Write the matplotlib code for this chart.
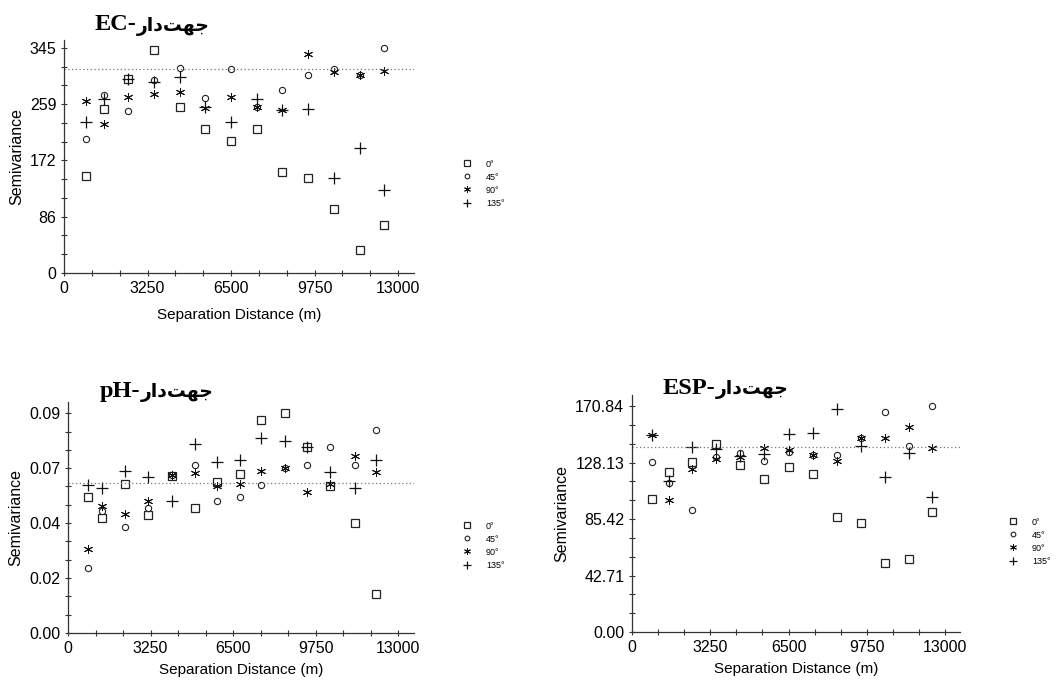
import matplotlib
matplotlib.use('Agg')
import matplotlib.pyplot as plt
import numpy as np
from matplotlib.ticker import FixedLocator

W, H = 1058, 682

lags = [850, 1550, 2500, 3500, 4500, 5500, 6500, 7500, 8500, 9500, 10500, 11500, 12450]
directions = ['0°', '45°', '90°', '135°']

# EC
ec_0 = [149, 252, 298, 342, 255, 221, 203, 221, 155, 146, 98, 35, 73]
ec_45 = [206, 273, 248, 296, 314, 268, 312, 254, 280, 303, 312, 304, 344]
ec_90 = [264, 228, 270, 275, 277, 253, 270, 254, 250, 335, 308, 304, 309]
ec_135 = [232, 266, 298, 292, 301, 255, 231, 266, 250, 251, 146, 192, 127]
ec_sill = 312.4
ec_yticks = ['0', '86', '172', '259', '345']

# pH
ph_lags = [790, 1330, 2240, 3140, 4080, 4990, 5870, 6760, 7600, 8540, 9400, 10320, 11300, 12110]
ph_0 = [0.0555, 0.0469, 0.0611, 0.0484, 0.0644, 0.0512, 0.0617, 0.0650, 0.0874, 0.0900, 0.0761, 0.0601, 0.0451, 0.0161]
ph_45 = [0.0265, 0.0499, 0.0435, 0.0510, 0.0648, 0.0687, 0.0542, 0.0558, 0.0606, 0.0677, 0.0688, 0.0762, 0.0688, 0.0833]
ph_90 = [0.0343, 0.0520, 0.0486, 0.0539, 0.0647, 0.0654, 0.0602, 0.0611, 0.0665, 0.0677, 0.0579, 0.0609, 0.0725, 0.0661]
ph_135 = [0.0605, 0.0594, 0.0662, 0.0639, 0.0540, 0.0774, 0.0699, 0.0709, 0.0800, 0.0787, 0.0761, 0.0661, 0.0592, 0.0709]
ph_sill = 0.0616
ph_yticks = ['0.00', '0.02', '0.04', '0.07', '0.09']

# ESP
esp_lags = [850, 1540, 2500, 3500, 4500, 5500, 6500, 7500, 8500, 9500, 10500, 11500, 12450]
esp_0 = [100.7, 121.1, 128.2, 142.1, 125.9, 115.8, 124.7, 119.4, 86.6, 82.5, 52.0, 55.0, 90.6]
esp_45 = [128.7, 112.3, 92.6, 132.5, 135.0, 129.2, 136.3, 134.2, 134.2, 146.4, 166.0, 140.8, 170.6]
esp_90 = [148.6, 99.7, 123.4, 131.0, 132.5, 138.8, 137.5, 134.2, 129.5, 146.4, 146.4, 155.2, 139.3]
esp_135 = [148.9, 114.3, 140.1, 138.5, 133.0, 134.5, 149.9, 150.7, 168.6, 140.6, 117.1, 135.3, 102.0]
esp_sill = 139.8
esp_yticks = ['0.00', '42.71', '85.42', '128.13', '170.84']

x_ticks = [0, 3250, 6500, 9750, 13000]

fa = ['Liberation Sans', 'DejaVu Sans']
title_fam = ['Liberation Serif', 'DejaVu Sans']
# Persian word in presentation forms, visual order
word = '\uFEAD\uFE8D\uFEA9\uFE96\uFEEC\uFE9F'

fig = plt.figure(figsize=(W / 100, H / 100), dpi=100)


def px_axes(l, t, r, b):
    return fig.add_axes([l / W, 1 - b / H, (r - l) / W, (b - t) / H])


styles = [
    dict(marker='s', ms=6, mfc='white', mec='#222222', mew=0.9),
    dict(marker='o', ms=4.5, mfc='white', mec='#222222', mew=0.8),
    dict(marker=(6, 2, 0), ms=6.5, mec='#111111', mew=0.7),
    dict(marker='+', ms=8, mec='#111111', mew=0.9),
]


def panel(box, xs, series, sill, ymax, ylabels, title, title_xy, leg_xy, xpad):
    ax = px_axes(*box)
    handles = []
    for vals, st, lab in zip(series, styles, directions):
        h, = ax.plot(xs, vals, ls='none', label=lab, **st)
        handles.append(h)
    ax.axhline(sill, color='#777777', ls=(0, (1, 2)), lw=0.9)
    ax.set_xlim(0, 13620)
    ax.set_ylim(0, ymax)
    ax.spines['top'].set_visible(False)
    ax.spines['right'].set_visible(False)
    for s in ('left', 'bottom'):
        ax.spines[s].set_color('#333333')
        ax.spines[s].set_linewidth(0.9)
    ymaj = np.linspace(0, float(ylabels[-1]), 5)
    ax.yaxis.set_major_locator(FixedLocator(ymaj))
    ax.set_yticklabels(ylabels)
    ax.yaxis.set_minor_locator(FixedLocator(np.arange(0, ymaj[-1] + 1e-12, ymaj[1] / 3)))
    ax.xaxis.set_major_locator(FixedLocator(x_ticks))
    ax.xaxis.set_minor_locator(FixedLocator(np.arange(0, 13600, 3250 / 3)))
    ax.tick_params(which='both', direction='inout', length=5, width=0.8, color='#333333')
    ax.tick_params(which='major', labelsize=11.5, pad=3)
    for lbl in ax.get_xticklabels() + ax.get_yticklabels():
        lbl.set_family(fa)
    ax.set_xlabel('Separation Distance (m)', family=fa, fontsize=11, labelpad=xpad)
    ax.set_ylabel('Semivariance', family=fa, fontsize=11.5, labelpad=4)
    t = fig.text(title_xy[0] / W, 1 - title_xy[1] / H, title, family=title_fam,
                 fontweight='bold', fontsize=17.5, ha='left', va='center')
    ax.annotate(word, xy=(1.0, 0.45), xycoords=t, ha='left', va='center',
                family=['DejaVu Sans'], fontweight='bold', fontsize=13.5,
                annotation_clip=False)
    fig.legend(handles=handles, loc='upper left',
               bbox_to_anchor=(leg_xy[0] / W, 1 - leg_xy[1] / H),
               frameon=False, prop={'family': fa, 'size': 6.5},
               handlelength=1.0, handletextpad=1.6, labelspacing=0.45,
               borderpad=0, markerscale=0.75)
    return ax


panel((64, 40, 414, 273), lags, [ec_0, ec_45, ec_90, ec_135], ec_sill, 357,
      ec_yticks, 'EC-', (95, 25), (458, 155), 9)
panel((68, 402, 414, 633), ph_lags, [ph_0, ph_45, ph_90, ph_135], ph_sill, 0.0946,
      ph_yticks, 'pH-', (100, 391), (458, 517), 5)
panel((632, 395, 960, 632), esp_lags, [esp_0, esp_45, esp_90, esp_135], esp_sill, 179.2,
      esp_yticks, 'ESP-', (663, 388), (1004, 513), 5)

fig.savefig('out.png', dpi=100)
